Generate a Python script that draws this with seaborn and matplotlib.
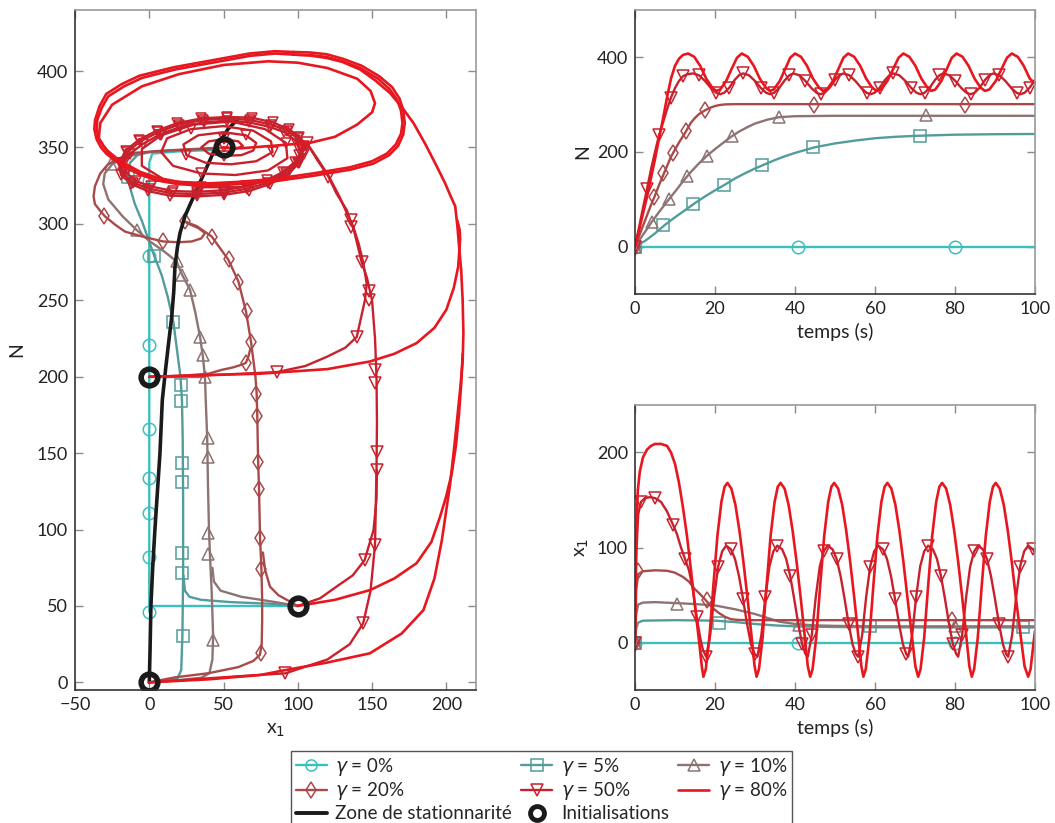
import numpy as np
import matplotlib
matplotlib.use("Agg")
import matplotlib.pyplot as plt
from matplotlib.lines import Line2D
import seaborn as sns

sns.set_theme(style="white")
plt.rcParams["font.family"] = ["Lato", "DejaVu Sans"]
plt.rcParams["mathtext.fontset"] = "dejavusans"

# ---------------- colours ----------------
C0, C5, C10, C20, C50, C80, CK = "#3CBFBF", "#529C9B", "#8C7474", "#A84A4A", "#C8202C", "#E8161E", "#1A1A1A"

# ---------------- phase portrait (x1, N) ----------------
g0_a_x = [100, 0]
g0_a_n = [50, 50]
g0_b_x = [0, 0, 0, 0, 0, 2, 20, 47]
g0_b_n = [46, 100, 200, 300, 340, 346, 347.5, 348.5]
g0_mk_x = [0, 0, 0, 0, 0, 0, 0, 0]
g0_mk_n = [46, 82, 111, 134, 166, 221, 279, 328]

g5_a_x = [0, 10, 19, 21.5, 22.3, 22.8, 22.8, 22.5, 22, 21, 19, 16.2, 12.5, 8.5, 3.4, -1, -5, -9.7, -13, -14, -13, -8, 0, 20, 46]
g5_a_n = [0, 1, 2.5, 8, 30, 70, 120, 160, 185, 200, 215, 236, 252, 266, 279, 291, 302, 313, 324, 332, 340, 345, 347, 348, 349]
g5_b_x = [100, 80, 55, 35, 27, 24, 23]
g5_b_n = [50, 51.5, 52.5, 54, 56, 60, 70]
g5_mk_x = [22.9, 22.3, 22.3, 22.3, 22.3, 21.4, 21.4, 16.2, 3.4, -14]
g5_mk_n = [30.3, 71.8, 84.5, 131.4, 143.4, 183.8, 194.7, 236, 279, 331]

g10_a_x = [0, 20, 35, 40.5, 42.5, 43, 42, 41, 40.2, 39.5, 39, 38, 37.5, 36, 34.2, 31, 27.4, 22, 18.4, 10, 0.5, -8.5, -18, -27.6, -31, -30, -25, -16, 0, 25, 47]
g10_a_n = [0, 1.5, 3, 6, 15, 30, 60, 80, 100, 130, 160, 185, 200, 214, 226, 242, 257, 267, 275.4, 282, 288.5, 296, 305, 316, 326, 333, 339, 344, 347, 348.5, 349.5]
g10_b_x = [100, 85, 62, 48, 43.5, 42.5]
g10_b_n = [50, 52.5, 56, 60, 66, 75]
g10_c_x = [0, 37.5]
g10_c_n = [200, 200]
g10_mk_x = [43.1, 39.7, 39.7, 39.3, 39.3, 37.5, 36, 34.2, 27.4, 21.8, 18.4, -8.5, -25.8]
g10_mk_n = [27.7, 83.8, 97.6, 147.7, 159.8, 200, 214, 226, 257, 266.7, 275.4, 296, 339]

g20_a_x = [0, 17.4, 40, 60, 70, 74.5, 75.7, 76, 76, 75.5, 74.6, 73.9, 73.3, 72.7, 72.3, 71.5, 68.5, 65.1, 60, 53.2, 42, 32, 24]
g20_a_n = [0, 3.3, 6, 10, 14, 18, 25, 40, 55, 74.6, 94.3, 126, 144.5, 175, 189, 200, 223, 242.7, 262.4, 276.6, 291.8, 298.5, 301.6]
g20_b_x = [100, 94.8, 87, 81.3, 78, 76.5]
g20_b_n = [50, 52.8, 57, 62.6, 73.5, 85]
g20_c_x = [0, 20, 40, 48.8, 56, 62, 65, 66.7, 68]
g20_c_n = [200, 200.5, 202, 204.5, 206, 207.8, 209, 213, 218]
g20_d_x = [50, 30, 10, -10, -20, -28, -33, -36.6, -37.5, -36.6, -33, -29.9, -23, -16.4, -5, 9.4, 20, 28.5, 35, 37.5, 33, 25.2]
g20_d_n = [350, 349, 348, 346.5, 343, 338.8, 333, 324.6, 318, 313, 308.5, 305, 299.5, 295, 291.8, 288.5, 288, 288.5, 290.5, 294, 297.3, 300.6]
g20_mk_x = [75.2, 75.4, 74.8, 73.9, 73.3, 72.4, 71.7, 65, 68.5, 65.6, 60, 53.7, 42.5, 24.3, 9.4, -30.3]
g20_mk_n = [19.4, 74.4, 94.3, 126.4, 144.5, 174.4, 188.8, 209, 223, 242.7, 262, 277, 291.4, 301.7, 288.5, 305.4]

g50_a_x = [0, 30, 60, 91.6, 120, 135, 144, 149, 152, 153, 153.3, 153, 152, 150, 146.5, 143, 138, 133, 126, 120.6, 113, 106]
g50_a_n = [0, 2, 4, 5.9, 15, 25, 38.6, 60, 90, 139, 170, 200, 225, 250, 265, 275, 295, 309, 320, 331, 342, 353]
g50_b_x = [100, 115, 126, 137, 145, 151, 153, 153.3]
g50_b_n = [50, 55, 62.6, 70, 80, 99.7, 120, 139]
g50_c_x = [0, 40, 85.8, 105, 119.5, 132, 139.7, 145.3, 146.4, 144, 141, 137.4, 134, 128, 121, 113, 106]
g50_c_n = [200, 201, 203, 207, 213, 219, 226, 250.5, 261, 275, 287, 298, 305, 318, 331, 343, 353]
g50_d_x = [50, 58, 63, 60, 50, 40, 35, 40, 50, 62, 70, 72, 65, 50, 33, 23, 25, 38, 55, 72, 83, 82, 70, 50, 28, 12, 8, 16, 35, 58, 80, 93, 92, 78, 55, 30, 8, -5, -5, 10, 35, 62, 85, 100, 103]
g50_d_n = [350, 349, 351, 354, 355.5, 354, 350, 346, 344.5, 345, 348, 353, 358, 360, 358, 352, 345, 340, 339, 341, 347, 354, 361, 364, 362, 356, 347, 338, 333, 332, 335, 343, 353, 362, 367, 365, 358, 349, 338, 329, 324, 324, 330, 341, 350]
ring_x = [103, 100, 93, 82, 68, 52, 36, 20, 6, -6, -15, -19, -18, -11, 0, 15, 32, 50, 66, 80, 92, 100, 103]
ring_n = [350, 356, 361, 365, 368, 369, 368, 365, 360, 354, 347, 340, 333, 327, 323, 320, 319.5, 320.5, 323, 327, 333, 340, 345]
ring2_x = [104, 101, 94, 83, 69, 52, 35, 19, 5, -7, -16, -20, -19, -12, -1, 14, 32, 50, 67, 81, 93, 101, 104]
ring2_n = [351, 357, 362, 366.5, 369.5, 370, 369, 366, 361, 355, 348, 340, 332, 326, 321.5, 318.5, 318, 319, 321.5, 326, 332, 340, 346]
ring3_x = [101, 98, 91, 81, 67, 52, 37, 21, 7, -4, -13, -17, -16, -9, 1, 16, 32, 50, 65, 79, 90, 98, 101]
ring3_n = [349, 355, 360, 363.5, 366.5, 367.5, 366.5, 363.5, 358.5, 352.5, 346, 340, 334, 328, 324.5, 321.5, 321, 322, 324.5, 328.5, 334, 340.5, 345]
g50_mk_x = [91.6, 144, 145, 152, 153, 153, 152, 152, 85.8, 139.7, 148, 148, 143, 136, 136, 120.6, 106]
g50_mk_n = [5.9, 38.6, 80, 90, 139, 151, 196, 204.6, 203, 226, 250, 256, 275, 298, 302.7, 331, 353]

g80_a_x = [0, 40, 74.6, 91.4, 120, 148.5, 170, 184.6, 192, 197, 202.6, 206, 209.3, 211, 211.5, 211, 210, 208.8, 207.5, 206, 203, 199, 193.6, 186, 177.9, 170, 162, 152, 142, 130, 119.5, 108, 97]
g80_a_n = [0, 2, 4.8, 8, 13, 19, 32, 47.3, 68, 93, 130, 160, 191.5, 210, 228.5, 250, 270, 283, 298, 311.5, 318, 327, 337.6, 352, 366, 376.5, 385.7, 394, 401, 406, 408.6, 410.2, 410.8]
g80_b_x = [100, 125, 148.7, 165, 180, 190, 195.8, 200, 203.7, 206.5, 208.5, 210, 211]
g80_b_n = [50, 54, 60.4, 68, 78, 92, 108.4, 122, 137, 155, 175, 195, 215]
g80_c_x = [0, 74.6, 120, 148.7, 165, 180, 192, 200, 205, 208, 209.3, 209, 207.5]
g80_c_n = [200, 202, 205, 210, 215, 222, 232, 243.8, 258, 272, 290, 296, 302]
g80_d_x = [50, 62, 75, 95, 108, 125, 140, 150, 152, 149, 140, 120, 100, 80, 50, 20, -5, -25, -33, -34, -28, -16, 5, 39, 84.7, 97]
g80_d_n = [350, 349.5, 350.5, 352, 353, 357, 365, 373, 379, 387, 395, 402, 405.5, 406.4, 404, 398, 390, 378, 366, 356, 347, 337, 328.5, 326, 328.5, 330.5]
cyc_x = [97, 84.7, 68, 51, 34, 17.3, 5, -5, -17, -27.6, -32, -35, -35.4, -34, -31, -27.6, -22, -16.4, -6, 6, 20, 39.7, 60, 84.7, 110, 135, 150, 160, 166, 169.5, 170.5, 169.5, 167, 162, 154, 142, 130, 119.5, 108, 97]
cyc_n = [410.8, 411.5, 410, 407, 404, 401, 398, 395.5, 390, 383.5, 376, 368, 362, 356, 351, 347.5, 343, 339.5, 334, 330, 327.5, 326.5, 327.5, 329.5, 333, 337, 341, 346, 352, 359, 366, 374, 381, 388, 395, 402, 406.5, 409.2, 410.5, 410.8]
cyc2_x = [97, 84.5, 67.5, 50.5, 33.5, 16.5, 4, -6.5, -18.5, -29, -33.5, -36.5, -37, -35.5, -32.5, -29, -23, -17.5, -7, 5, 19.5, 39.5, 60, 85, 110.5, 135.5, 151, 161.5, 167.5, 171, 172, 171, 168.5, 163.5, 155, 143, 130.5, 119.5, 108, 97]
cyc2_n = [412.5, 413, 411.5, 408.5, 405.5, 402.5, 399.5, 397, 391.5, 385, 377, 368, 362, 355.5, 350, 346, 341.5, 338, 332.5, 328.5, 326, 325, 326, 328, 331.5, 335.5, 339.5, 345, 351, 358.5, 366, 374.5, 382, 389.5, 396.5, 403.5, 408, 411, 412.2, 412.5]

stat_x = [0, 0.5, 1.1, 2.3, 3.8, 5.5, 7.2, 8.8, 11, 13, 15.1, 16.5, 17.3, 19, 20.7, 24, 29, 35, 44, 53, 60]
stat_n = [0, 20, 50, 75, 100, 125, 150, 185, 205, 222, 239, 256, 272, 285, 294, 305, 316, 329, 348.6, 362, 369]
init_x = [0, 0, 100, 50]
init_n = [0, 200, 50, 350]

# ---------------- N(t) ----------------
n0_t = [0, 100]
n0_v = [0, 0]
n0_mk_t = [0, 40.7, 80]
n0_mk_v = [0, 0, 0]
n5_t = [0, 2.5, 5, 7.5, 10, 12.5, 15, 17.5, 20, 22.5, 25, 27.5, 30, 32.5, 35, 37.5, 40, 45, 50, 55, 60, 65, 70, 80, 90, 100]
n5_v = [0, 12, 28, 46, 62, 77, 92, 106, 119, 131, 144, 155, 165, 174, 183, 191, 198, 210, 218, 224, 229, 232, 234, 236.5, 237.5, 238]
n5_mk_t = [0, 7.1, 14.6, 22.3, 31.7, 44.6, 71.3]
n5_mk_v = [0, 45.5, 90.5, 129.7, 171.8, 209.7, 234.3]
n10_t = [0, 2, 4, 6, 8, 10, 12, 14, 16, 18, 20, 22, 24, 26, 28, 30, 33, 36, 40, 45, 50, 60, 100]
n10_v = [0, 25, 50, 73, 95, 116, 138, 158, 176, 192, 206, 219, 232, 243, 252, 260, 268, 273.5, 275.5, 276, 276.4, 276.4, 276.4]
n10_mk_t = [0, 4.2, 8.5, 13.1, 17.9, 24.2, 36, 72.8]
n10_mk_v = [0, 51.8, 101, 148.6, 190.7, 234.3, 273.7, 278.5]
n20_t = [0, 1, 2.5, 4, 5, 6, 7.5, 9, 10, 11, 12.5, 14, 15, 16, 17.5, 19, 20, 21, 22.5, 25, 30, 100]
n20_v = [0, 22, 55, 88, 108, 130, 160, 190, 205, 220, 240, 262, 272, 280, 288, 294, 297, 299, 300.5, 301, 301, 301]
n20_mk_t = [0, 4.8, 7.1, 9.6, 12.7, 17.5, 44.8, 82.5]
n20_mk_v = [0, 105, 155.4, 197.9, 244.8, 289, 299.6, 299.6]
n50_t = [0, 1, 2, 3, 4, 5, 6, 7, 8, 9, 10, 11, 12, 13, 14.5,
         16, 17.5, 19, 20.3, 21.3, 22.3, 23.6, 24.9, 26, 27,
         28.5, 30, 31.5, 32.8, 33.8, 34.8, 36.1, 37.5, 38.6, 39.6,
         41.1, 42.6, 44.1, 45.4, 46.4, 47.4, 48.7, 50, 51.1, 52.1,
         53.6, 55.1, 56.6, 57.9, 58.9, 59.9, 61.2, 62.5, 63.6, 64.6,
         66.1, 67.6, 69.1, 70.4, 71.4, 72.4, 73.7, 75, 76.1, 77.1,
         78.6, 80.1, 81.6, 82.9, 83.9, 84.9, 86.2, 87.5, 88.6, 89.6,
         91.1, 92.6, 94.1, 95.4, 96.4, 97.4, 98.7, 100]
n50_v = [0, 40, 82, 122, 163, 200, 235, 262, 290, 315, 335, 350, 360, 364, 366,
         362, 350, 335, 325, 322, 325, 336, 352, 362, 366,
         362, 350, 335, 325, 322, 325, 336, 352, 362, 366,
         362, 350, 335, 325, 322, 325, 336, 352, 362, 366,
         362, 350, 335, 325, 322, 325, 336, 352, 362, 366,
         362, 350, 335, 325, 322, 325, 336, 352, 362, 366,
         362, 350, 335, 325, 322, 325, 336, 352, 362, 366,
         362, 350, 335, 325, 322, 325, 336, 352]
n80_t = [0, 1, 2, 3, 4, 5, 6, 7, 8, 9, 10, 11, 12, 13.3,
         14.8, 16.3, 17.8, 19.3, 20.3, 21.3, 22.8, 24.3, 25.5, 26.7,
         28.2, 29.7, 31.2, 32.7, 33.7, 34.7, 36.2, 37.7, 38.8, 40.0,
         41.5, 43.0, 44.5, 46.0, 47.0, 48.0, 49.5, 51.0, 52.1, 53.3,
         54.8, 56.3, 57.8, 59.3, 60.4, 61.5, 63.1, 64.7, 65.9, 67.1,
         68.6, 70.1, 71.6, 73.1, 74.1, 75.1, 76.6, 78.1, 79.2, 80.4,
         81.9, 83.4, 84.9, 86.4, 87.5, 88.6, 90.2, 91.8, 93.0, 94.2,
         95.7, 97.2, 98.7, 100]
n80_v = [0, 35, 70, 105, 145, 185, 228, 270, 315, 355, 382, 397, 405, 408,
         401, 382, 355, 336, 329, 332, 350, 378, 399, 408,
         401, 382, 355, 336, 329, 332, 350, 378, 399, 408,
         401, 382, 355, 336, 329, 332, 350, 378, 399, 408,
         401, 382, 355, 336, 329, 332, 350, 378, 399, 408,
         401, 382, 355, 336, 329, 332, 350, 378, 399, 408,
         401, 382, 355, 336, 329, 332, 350, 378, 399, 408,
         401, 382, 355, 345]

# ---------------- x1(t) ----------------
x0_t = [0, 100]
x0_v = [0, 0]
x0_mk_t = [0, 40.7, 80]
x0_mk_v = [0, 0, 0]
x5_t = [0, 0.3, 0.8, 2, 10, 20, 25, 30, 35, 40, 50, 60, 100]
x5_v = [0, 15, 21, 23, 23.5, 23, 21.5, 19.5, 18, 17, 16.3, 16, 15.8]
x5_mk_t = [0, 21.1, 58.75, 97.1]
x5_mk_v = [0, 21, 17.5, 15.8]
x10_t = [0, 0.3, 0.8, 2, 5, 10, 15, 20, 25, 30, 33, 36, 40, 45, 50, 60, 80, 100]
x10_v = [0, 30, 40, 42, 42.5, 41.5, 40.5, 39, 35, 30, 26, 22, 19.5, 18, 17.5, 17, 17, 17]
x10_mk_t = [0, 10.4, 41, 80]
x10_mk_v = [0, 41, 18.5, 17]
x20_t = [0, 0.3, 0.8, 2, 5, 8, 10, 12, 13.5, 15, 16.5, 18, 19.5, 21, 22.5, 24, 26, 30, 100]
x20_v = [0, 55, 72, 75, 76, 75.5, 73.5, 69, 64, 56, 50, 43, 36, 31, 27, 24.5, 23.7, 23.5, 23.5]
x20_mk_t = [0, 0.8, 18, 79.2]
x20_mk_v = [0, 75, 44.6, 23.5]
x50_t = [0, 0.3, 0.8, 1.5, 2.5, 3.8, 5, 6.5, 8, 9.5, 10.5, 11.5, 12.5, 13.5, 14.5, 15.4, 16.3, 17, 17.8,
         18.8, 19.8, 20.8, 21.8, 22.8, 24, 25, 26, 27, 28, 29, 29.9, 30.6,
         31.6, 32.6, 33.6, 34.6, 35.6, 36.8, 37.8, 38.8, 39.8, 40.8, 41.8, 42.6, 43.2,
         44.2, 45.2, 46.2, 47.2, 48.2, 49.4, 50.4, 51.4, 52.4, 53.4, 54.4, 55.2, 55.8,
         56.8, 57.8, 58.8, 59.8, 60.8, 62, 63, 64, 65, 66, 67, 67.8, 68.3,
         69.3, 70.3, 71.3, 72.3, 73.3, 74.5, 75.5, 76.5, 77.5, 78.5, 79.5, 80.3, 80.8,
         81.8, 82.8, 83.8, 84.8, 85.8, 87, 88, 89, 90, 91, 92, 92.8, 93.3,
         94.3, 95.3, 96.3, 97.3, 98.3, 99.5, 100]
x50_v = [0, 90, 135, 148, 152, 153, 152, 148, 138, 124, 114, 100, 88, 76, 55, 27, 5, -8, -15,
         8, 48, 80, 96, 102, 98, 88, 70, 46, 20, -2, -12, -15,
         8, 48, 80, 96, 102, 98, 88, 70, 46, 20, -2, -12, -15,
         8, 48, 80, 96, 102, 98, 88, 70, 46, 20, -2, -12, -15,
         8, 48, 80, 96, 102, 98, 88, 70, 46, 20, -2, -12, -15,
         8, 48, 80, 96, 102, 98, 88, 70, 46, 20, -2, -12, -15,
         8, 48, 80, 96, 102, 98, 88, 70, 46, 20, -2, -12, -15,
         8, 48, 80, 96, 102, 98, 95]
x80_t = [0, 0.3, 0.7, 1.2, 2, 3, 4, 5, 6.5, 8, 9, 10, 11, 12, 13, 14, 15, 16, 16.7, 17.1,
         17.7, 18.6, 19.6, 20.6, 21.6, 22.4, 23.1, 24.1, 25.1, 26.1, 27.1, 28.1, 29.1, 29.9, 30.4,
         31.0, 31.9, 32.9, 33.9, 34.9, 35.7, 36.4, 37.4, 38.4, 39.4, 40.4, 41.4, 42.4, 43.2, 43.8,
         44.4, 45.3, 46.3, 47.3, 48.3, 49.1, 49.8, 50.8, 51.8, 52.8, 53.8, 54.8, 55.8, 56.6, 57.1,
         57.7, 58.6, 59.6, 60.6, 61.6, 62.4, 63.1, 64.1, 65.1, 66.1, 67.1, 68.1, 69.2, 70.1, 70.8,
         71.4, 72.3, 73.3, 74.3, 75.3, 76.1, 76.8, 77.8, 78.8, 79.8, 80.8, 81.8, 82.8, 83.6, 84.2,
         84.8, 85.7, 86.7, 87.7, 88.7, 89.5, 90.2, 91.2, 92.2, 93.2, 94.2, 95.2, 96.4, 97.4, 98.3,
         98.9, 99.8, 100]
x80_v = [0, 110, 160, 180, 195, 203, 207, 209, 209, 207, 200, 188, 168, 142, 112, 76, 38, 2, -25, -36,
         -28, 5, 60, 112, 148, 164, 168, 162, 145, 118, 85, 48, 8, -25, -36,
         -28, 5, 60, 112, 148, 164, 168, 162, 145, 118, 85, 48, 8, -25, -36,
         -28, 5, 60, 112, 148, 164, 168, 162, 145, 118, 85, 48, 8, -25, -36,
         -28, 5, 60, 112, 148, 164, 168, 162, 145, 118, 85, 48, 8, -25, -36,
         -28, 5, 60, 112, 148, 164, 168, 162, 145, 118, 85, 48, 8, -25, -36,
         -28, 5, 60, 112, 148, 164, 168, 162, 145, 118, 85, 48, 8, -25, -36,
         -28, 5, 12]

legend_labels = [r"$\gamma$ = 0%", r"$\gamma$ = 20%", "Zone de stationnarité",
                 r"$\gamma$ = 5%", r"$\gamma$ = 50%", "Initialisations",
                 r"$\gamma$ = 10%", r"$\gamma$ = 80%"]

# ---------------- drawing helpers ----------------
LW = 1.7


def draw(ax, x, y, color, lw=LW, **kw):
    sns.lineplot(x=np.asarray(x, float), y=np.asarray(y, float), sort=False, estimator=None,
                 ax=ax, color=color, linewidth=lw, legend=False, **kw)


def marks(ax, x, y, color, marker, ms=8, mew=1.1, every=None):
    sns.lineplot(x=np.asarray(x, float), y=np.asarray(y, float), sort=False, estimator=None,
                 ax=ax, color=color, linestyle="none", marker=marker, markersize=ms,
                 markerfacecolor="none", markeredgecolor=color, markeredgewidth=mew,
                 markevery=every, legend=False)


def style(ax):
    ax.tick_params(direction="in", length=6, width=1, color="#8a8a8a", labelcolor="#222222",
                   labelsize=13, top=True, right=True, bottom=True, left=True, pad=5)
    for s in ["left", "bottom"]:
        ax.spines[s].set_color("#333333")
        ax.spines[s].set_linewidth(1.2)
    for s in ["top", "right"]:
        ax.spines[s].set_color("#9a9a9a")
        ax.spines[s].set_linewidth(1.2)
    ax.grid(False)


fig = plt.figure(figsize=(10.55, 8.23), dpi=100)
axL = fig.add_axes([0.0711, 0.1616, 0.3801, 0.8263])
axT = fig.add_axes([0.6019, 0.6428, 0.3791, 0.3451])
axB = fig.add_axes([0.6019, 0.1616, 0.3791, 0.3463])

# ---- phase portrait ----
draw(axL, g0_a_x, g0_a_n, C0)
draw(axL, g0_b_x, g0_b_n, C0)
marks(axL, g0_mk_x, g0_mk_n, C0, "o", ms=9)

draw(axL, g5_a_x, g5_a_n, C5)
draw(axL, g5_b_x, g5_b_n, C5)
marks(axL, g5_mk_x, g5_mk_n, C5, "s", ms=9)

draw(axL, g10_a_x, g10_a_n, C10)
draw(axL, g10_b_x, g10_b_n, C10)
draw(axL, g10_c_x, g10_c_n, C10)
marks(axL, g10_mk_x, g10_mk_n, C10, "^", ms=8)

draw(axL, g20_a_x, g20_a_n, C20)
draw(axL, g20_b_x, g20_b_n, C20)
draw(axL, g20_c_x, g20_c_n, C20)
draw(axL, g20_d_x, g20_d_n, C20)
marks(axL, g20_mk_x, g20_mk_n, C20, "d", ms=8)

draw(axL, stat_x, stat_n, CK, lw=2.6)

draw(axL, g50_a_x, g50_a_n, C50)
draw(axL, g50_b_x, g50_b_n, C50)
draw(axL, g50_c_x, g50_c_n, C50)
draw(axL, g50_d_x, g50_d_n, C50)
draw(axL, ring_x, ring_n, C50)
draw(axL, ring2_x, ring2_n, C50)
draw(axL, ring3_x, ring3_n, C50)
marks(axL, g50_mk_x, g50_mk_n, C50, "v", ms=8)
marks(axL, ring_x, ring_n, C50, "v", ms=7)
marks(axL, ring2_x, ring2_n, C50, "v", ms=7)
marks(axL, ring3_x, ring3_n, C50, "v", ms=7)
marks(axL, g50_d_x, g50_d_n, C50, "v", ms=7, every=4)

draw(axL, g80_a_x, g80_a_n, C80, lw=1.9)
draw(axL, g80_b_x, g80_b_n, C80, lw=1.9)
draw(axL, g80_c_x, g80_c_n, C80, lw=1.9)
draw(axL, g80_d_x, g80_d_n, C80, lw=1.9)
draw(axL, cyc_x, cyc_n, C80, lw=1.9)
draw(axL, cyc2_x, cyc2_n, C80, lw=1.9)

sns.lineplot(x=np.asarray(init_x, float), y=np.asarray(init_n, float), sort=False, estimator=None,
             ax=axL, color=CK, linestyle="none", marker="o", markersize=12,
             markerfacecolor="none", markeredgecolor=CK, markeredgewidth=4, legend=False)

axL.set_xlim(-50, 220)
axL.set_ylim(-5, 440)
axL.set_xticks([-50, 0, 50, 100, 150, 200])
axL.set_yticks([0, 50, 100, 150, 200, 250, 300, 350, 400])
axL.set_xlabel(r"x$_1$", fontsize=14, color="#222222", labelpad=6)
axL.set_ylabel("N", fontsize=14, color="#222222", labelpad=8)
style(axL)

# ---- N(t) ----
draw(axT, n0_t, n0_v, C0)
marks(axT, n0_mk_t, n0_mk_v, C0, "o", ms=9)
draw(axT, n5_t, n5_v, C5)
marks(axT, n5_mk_t, n5_mk_v, C5, "s", ms=9)
draw(axT, n10_t, n10_v, C10)
marks(axT, n10_mk_t, n10_mk_v, C10, "^", ms=8)
draw(axT, n20_t, n20_v, C20)
marks(axT, n20_mk_t, n20_mk_v, C20, "d", ms=8)
draw(axT, n50_t, n50_v, C50)
marks(axT, n50_t, n50_v, C50, "v", ms=8, every=3)
draw(axT, n80_t, n80_v, C80, lw=1.9)
axT.set_xlim(0, 100)
axT.set_ylim(-100, 500)
axT.set_xticks([0, 20, 40, 60, 80, 100])
axT.set_yticks([0, 200, 400])
axT.set_xlabel("temps (s)", fontsize=14, color="#222222", labelpad=4)
axT.set_ylabel("N", fontsize=14, color="#222222", labelpad=4)
style(axT)

# ---- x1(t) ----
draw(axB, x0_t, x0_v, C0)
marks(axB, x0_mk_t, x0_mk_v, C0, "o", ms=9)
draw(axB, x5_t, x5_v, C5)
marks(axB, x5_mk_t, x5_mk_v, C5, "s", ms=9)
draw(axB, x10_t, x10_v, C10)
marks(axB, x10_mk_t, x10_mk_v, C10, "^", ms=8)
draw(axB, x20_t, x20_v, C20)
marks(axB, x20_mk_t, x20_mk_v, C20, "d", ms=8)
draw(axB, x50_t, x50_v, C50)
marks(axB, x50_t, x50_v, C50, "v", ms=8, every=3)
draw(axB, x80_t, x80_v, C80, lw=1.9)
axB.set_xlim(0, 100)
axB.set_ylim(-50, 250)
axB.set_xticks([0, 20, 40, 60, 80, 100])
axB.set_yticks([0, 100, 200])
axB.set_xlabel("temps (s)", fontsize=14, color="#222222", labelpad=4)
axB.set_ylabel(r"x$_1$", fontsize=14, color="#222222", labelpad=4)
style(axB)

# ---- legend ----
def proxy(color, marker=None, lw=LW):
    return Line2D([], [], color=color, lw=lw, marker=marker, markersize=8,
                  markerfacecolor="none", markeredgecolor=color, markeredgewidth=1.1)

handles = [proxy(C0, "o"), proxy(C20, "d"), proxy(CK, None, lw=2.8),
           proxy(C5, "s"), proxy(C50, "v"),
           Line2D([], [], color=CK, lw=0, marker="o", markersize=10, markerfacecolor="none",
                  markeredgecolor=CK, markeredgewidth=3.5),
           proxy(C10, "^"), proxy(C80, None, lw=1.9)]
leg = fig.legend(handles, legend_labels, ncol=3, loc="upper center",
                 bbox_to_anchor=(0.5133, 0.0875), fontsize=13.5, frameon=True, fancybox=False,
                 edgecolor="#555555", framealpha=1, handlelength=1.65, handletextpad=0.45,
                 columnspacing=0.5, labelspacing=0.15, borderpad=0.25, borderaxespad=0)
leg.get_frame().set_linewidth(1.0)

fig.savefig("out.png", dpi=100)
